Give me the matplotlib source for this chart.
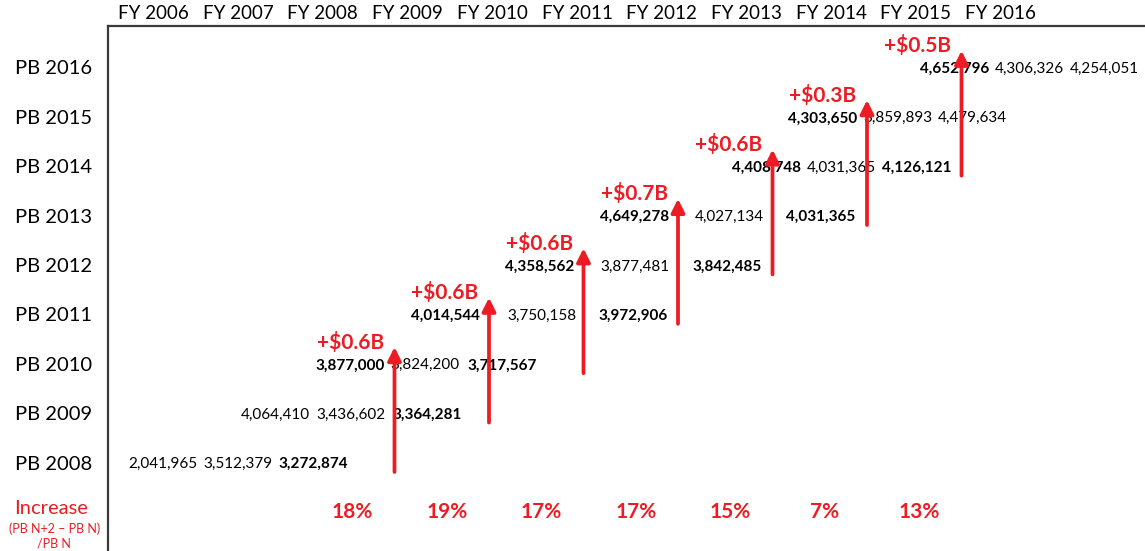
import matplotlib
matplotlib.use('Agg')
import matplotlib.pyplot as plt

plt.rcParams['font.family'] = ['Lato', 'DejaVu Sans']

# data
fy_labels = ["FY 2006", "FY 2007", "FY 2008", "FY 2009", "FY 2010", "FY 2011",
             "FY 2012", "FY 2013", "FY 2014", "FY 2015", "FY 2016"]
pb_labels = ["PB 2008", "PB 2009", "PB 2010", "PB 2011", "PB 2012",
             "PB 2013", "PB 2014", "PB 2015", "PB 2016"]
pb_values = [
    [2041965, 3512379, 3272874],
    [4064410, 3436602, 3364281],
    [3877000, 3824200, 3717567],
    [4014544, 3750158, 3972906],
    [4358562, 3877481, 3842485],
    [4649278, 4027134, 4031365],
    [4408748, 4031365, 4126121],
    [4303650, 3859893, 4479634],
    [4652796, 4306326, 4254051],
]
bold_flags = [
    [False, False, True],
    [False, False, True],
    [True, False, True],
    [True, False, True],
    [True, False, True],
    [True, False, True],
    [True, False, True],
    [True, False, False],
    [True, False, False],
]
increase_labels = ["+$0.6B", "+$0.6B", "+$0.6B", "+$0.7B", "+$0.6B", "+$0.3B", "+$0.5B"]
increase_pct = [18, 19, 17, 17, 15, 7, 13]

# layout (x in pixels, y in row units)
row_x = [
    [128, 203, 278],
    [241, 316, 392],
    [315, 390, 467],
    [411, 507, 598],
    [505, 600, 692],
    [600, 695, 786],
    [732, 807, 882],
    [788, 863, 938],
    [920, 995, 1070],
]
red = '#ED1C24'
dark = '#3a3a3a'

fig = plt.figure(figsize=(11.45, 5.51), dpi=100)
ax = fig.add_axes([108 / 1145, 0, 1 - 108 / 1145, (551 - 26) / 551])
ax.set_xlim(108, 1145)
ax.set_ylim(-1.76, 8.87)
ax.set_xticks([])
ax.set_yticks([])
for s in ['right', 'bottom']:
    ax.spines[s].set_visible(False)
for s in ['left', 'top']:
    ax.spines[s].set_linewidth(1.6)
    ax.spines[s].set_color(dark)

# column headers
for i, lab in enumerate(fy_labels):
    ax.text(118 + i * 84.7, 9.12, lab, fontsize=13.5, ha='left', va='center',
            color='black', clip_on=False)

# row labels and values
for r, lab in enumerate(pb_labels):
    ax.text(15, r, lab, fontsize=14.5, ha='left', va='center', clip_on=False)
    for c, v in enumerate(pb_values[r]):
        ax.text(row_x[r][c], r, f"{v:,}", fontsize=11, ha='left', va='center',
                fontweight='bold' if bold_flags[r][c] else 'normal', color='black')

# arrows from PB N to PB N+2
for k, (lab, pct) in enumerate(zip(increase_labels, increase_pct)):
    x = 394.5 + 94.5 * k
    ax.annotate('', xy=(x, k + 2 + 0.37), xytext=(x, k - 0.16),
                arrowprops=dict(arrowstyle='-|>,head_length=0.4,head_width=0.2',
                                lw=2.7, color=red, mutation_scale=20,
                                shrinkA=0, shrinkB=0))
    ax.text(x - 44, k + 2 + 0.47, lab, fontsize=15, fontweight='bold', color=red,
            ha='center', va='center')
    ax.text(x - 42, -0.97, f"{pct}%", fontsize=15, fontweight='bold', color=red,
            ha='center', va='center')

# increase legend
ax.text(51, -0.89, "Increase", fontsize=14.5, color=red, ha='center', va='center', clip_on=False)
ax.text(55, -1.30, "(PB N+2 \u2013 PB N)", fontsize=9, color=red, ha='center', va='center', clip_on=False)
ax.text(54, -1.60, "/PB N", fontsize=9, color=red, ha='center', va='center', clip_on=False)

plt.savefig('out.png', dpi=100)
plt.close()
